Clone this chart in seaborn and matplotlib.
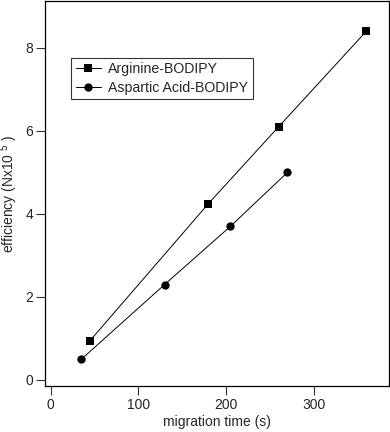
import pandas as pd
import matplotlib
matplotlib.use('Agg')
import matplotlib.pyplot as plt
import seaborn as sns

# данные
arg_time = [45, 180, 260, 360]
arg_eff = [0.95, 4.25, 6.1, 8.4]
asp_time = [35, 130, 205, 270]
asp_eff = [0.5, 2.3, 3.7, 5.0]

sns.set_theme(style='ticks')
plt.rcParams['font.family'] = ['Liberation Sans', 'DejaVu Sans']
plt.rcParams['mathtext.default'] = 'regular'

df = pd.concat([
    pd.DataFrame({'t': arg_time, 'eff': arg_eff, 'series': 'Arginine-BODIPY'}),
    pd.DataFrame({'t': asp_time, 'eff': asp_eff, 'series': 'Aspartic Acid-BODIPY'}),
])

fig = plt.figure(figsize=(3.9, 4.32), dpi=100)
ax = fig.add_axes([0.1154, 0.1065, 0.882, 0.891])

sns.lineplot(data=df, x='t', y='eff', hue='series', style='series',
             markers={'Arginine-BODIPY': 's', 'Aspartic Acid-BODIPY': 'o'},
             dashes=False, palette={'Arginine-BODIPY': 'black', 'Aspartic Acid-BODIPY': 'black'},
             linewidth=0.7, markersize=6, markeredgewidth=0, ax=ax, sort=False)

ax.set_xlim(-6.5, 386)
ax.set_ylim(-0.145, 9.13)
ax.set_xticks([0, 100, 200, 300])
ax.set_yticks([0, 2, 4, 6, 8])
ax.tick_params(direction='out', length=6.5, width=0.8, labelsize=10, color='#333333', pad=2)
for s in ax.spines.values():
    s.set_linewidth(0.9)
    s.set_color('black')

ax.set_xlabel('migration time (s)', fontsize=10, labelpad=2)
ax.set_ylabel('efficiency (Nx10 $^{5}$ )', fontsize=10, labelpad=0)
ax.yaxis.set_label_coords(-0.072, 0.5)

leg = ax.legend(loc='upper left', bbox_to_anchor=(0.077, 0.853), frameon=True,
                fancybox=False, edgecolor='black', fontsize=10.2, borderpad=0.3,
                handlelength=1.8, handletextpad=0.5, labelspacing=0.35, borderaxespad=0)
leg.get_frame().set_linewidth(0.8)
leg.set_title(None)

fig.savefig('out.png', dpi=100)
